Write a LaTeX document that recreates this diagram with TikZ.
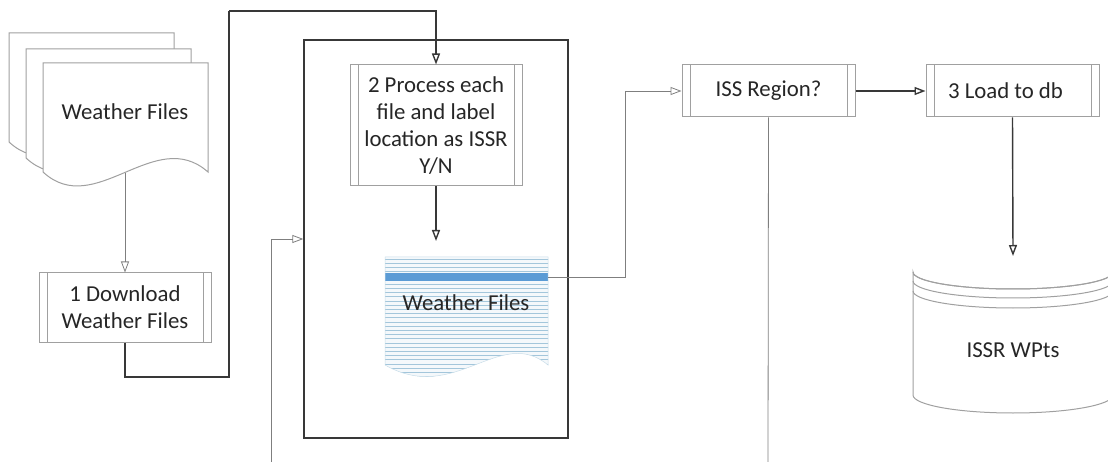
\documentclass[tikz,border=0pt]{standalone}
\usepackage{fontspec}
\setmainfont{Carlito}
\usetikzlibrary{arrows.meta}
\definecolor{boxline}{HTML}{A0A0A0}
\definecolor{thinline}{HTML}{7F7F7F}
\definecolor{darkline}{HTML}{383838}
\definecolor{txt}{HTML}{262626}
\definecolor{stripe}{HTML}{A3C6DB}
\definecolor{bar}{HTML}{5B9BD5}

\tikzset{
  lbl/.style={text=txt, align=center, inner sep=0pt, font=\fontsize{22.8}{27}\selectfont},
  proc/.style={lbl, draw=boxline, line width=1pt, fill=white,
    path picture={\draw[boxline, line width=1pt]
      ([xshift=8pt]path picture bounding box.north west) -- ([xshift=8pt]path picture bounding box.south west)
      ([xshift=-8pt]path picture bounding box.north east) -- ([xshift=-8pt]path picture bounding box.south east);}},
  page/.style={draw=boxline, line width=1pt, fill=white},
  tip/.style={-{Triangle[open, length=11pt, width=8pt]}},
  thinflow/.style={draw=thinline, line width=0.8pt},
  darkflow/.style={draw=darkline, line width=1.4pt},
}

\begin{document}
\begin{tikzpicture}[x=1pt, y=-1pt]
  \useasboundingbox (0,0) rectangle (1108,462);
  \clip (0,0) rectangle (1108,462);

  % stack of weather files
  \begin{scope}[shift={(-34,-30)}]
    \draw[page] (43,63) -- (208,63) -- (208,172) .. controls (155,125) and (95,220) .. (43,172) -- cycle;
  \end{scope}
  \begin{scope}[shift={(-17,-14)}]
    \draw[page] (43,63) -- (208,63) -- (208,172) .. controls (155,125) and (95,220) .. (43,172) -- cycle;
  \end{scope}
  \draw[page] (43,63) -- (208,63) -- (208,172) .. controls (155,125) and (95,220) .. (43,172) -- cycle;
  \node[lbl] (stack) at (125,112) {Weather Files};
  \coordinate (stackout) at (125,173);

  % process steps
  \node[proc, minimum width=172pt, minimum height=69pt] (dl) at (125,307.5) {1 Download\\Weather Files};
  \node[draw=darkline, line width=1.4pt, minimum width=264pt, minimum height=398pt, inner sep=0pt] (loop) at (436,239) {};
  \node[proc, minimum width=172pt, minimum height=121pt] (proc) at (436,125.5) {2 Process each\\file and label\\location as ISSR\\Y/N};
  \node[proc, minimum width=173pt, minimum height=52pt] (iss) at (768.5,91) {ISS Region?};
  \node[proc, minimum width=173pt, minimum height=52pt] (load) at (1012.5,91) {\hspace*{-14pt}3 Load to db};

  % labelled weather files (striped document)
  \begin{scope}
    \clip (385,257) -- (548,257) -- (548,365) .. controls (500,325) and (455,405) .. (385,365) -- cycle;
    \fill[stripe!12] (380,250) rectangle (555,390);
    \foreach \k in {0,...,30} {
      \draw[stripe, line width=0.9pt] (380,{259+4.2*\k}) -- (555,{259+4.2*\k});
    }
    \fill[bar] (385,273) rectangle (548,281);
  \end{scope}
  \draw[stripe!60, line width=0.5pt] (385,257) -- (548,257) -- (548,365) .. controls (500,325) and (455,405) .. (385,365) -- cycle;
  \node[lbl] (wf) at (466,303) {Weather Files};
  \coordinate (wfbar) at (548,277);
  \coordinate (wfin) at (436,241);

  % database
  \draw[page] (913,272) -- (913,395) arc[start angle=180, end angle=360, x radius=100, y radius=-18]
              -- (1113,272) arc[start angle=0, end angle=180, x radius=100, y radius=17] -- cycle;
  \draw[boxline, line width=1pt] (913,272) arc[start angle=180, end angle=360, x radius=100, y radius=-17];
  \draw[boxline, line width=1pt] (913,281) arc[start angle=180, end angle=360, x radius=100, y radius=-17];
  \draw[boxline, line width=1pt] (913,291) arc[start angle=180, end angle=360, x radius=100, y radius=-17];
  \node[lbl] (db) at (1013,350) {ISSR WPts};
  \coordinate (dbin) at (1013,256);

  % free ends
  \coordinate (feedin) at (271,462);
  \coordinate (issout) at (768,462);

  % connectors
  \draw[thinflow, tip] (stackout) -- (dl.north);
  \draw[darkflow] (dl.south) -- (125,377) -| (229,11);
  \draw[darkflow, tip] (229,11) -| (proc.north);
  \draw[darkflow, tip] (proc.south) -- (wfin);
  \draw[thinflow, tip] (wfbar) -- (625,277) |- (iss.west);
  \draw[thinflow, tip] (feedin) |- (loop.west);
  \draw[thinflow] (iss.south) -- (issout);
  \draw[darkflow, tip] (iss.east) -- (load.west);
  \draw[darkflow, tip] (load.south) -- (dbin);
\end{tikzpicture}
\end{document}
